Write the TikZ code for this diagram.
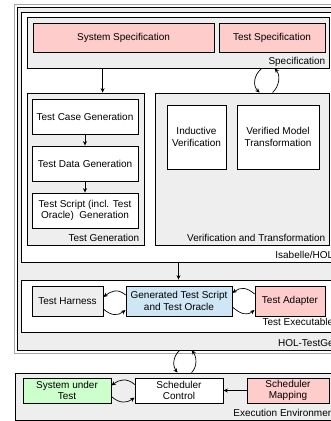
\documentclass[tikz,border=0pt]{standalone}
\usepackage{fontspec}
\setmainfont{Liberation Sans}
\usetikzlibrary{arrows.meta, calc}
\definecolor{specpink}{HTML}{FFCCCC}
\definecolor{boxgray}{HTML}{EEEEEE}
\definecolor{scriptblue}{HTML}{CFE6F5}
\definecolor{sutgreen}{HTML}{CCFFCC}

\begin{document}
\begin{tikzpicture}[x=1pt, y=-1pt,
  box/.style={draw, line width=0.8pt, inner sep=0pt, align=center, font=\fontsize{10}{11.5}\selectfont},
  lbl/.style={inner sep=0pt, font=\fontsize{10}{11.5}\selectfont, anchor=base east},
  arr/.style={-{Stealth[length=4.5pt, width=4pt]}, line width=0.7pt}]
\useasboundingbox (0,0) rectangle (331,421);
\clip (0,0) rectangle (331,421);
% Containers
\node[box, fill=boxgray, minimum width=324.5pt, minimum height=342.5pt] (holtg) at (179.75,178.75) {};
\draw[gray!70, line width=0.6pt] ($(holtg.north west)+(-2.5,-2.5)$) rectangle ($(holtg.south east)+(2.5,2.5)$);
\node[box, fill=white, minimum width=315pt, minimum height=250pt] (isa) at (178.5,137) {};
\node[box, fill=boxgray, minimum width=302pt, minimum height=51pt] (spec) at (178,42.5) {};
\node[box, fill=boxgray, minimum width=117pt, minimum height=152pt] (testgen) at (85.5,169) {};
\node[box, fill=boxgray, minimum width=174pt, minimum height=152pt] (verif) at (242,169) {};
\node[box, fill=white, minimum width=315pt, minimum height=52pt] (testexe) at (178.5,306) {};
\node[box, fill=boxgray, minimum width=324pt, minimum height=47pt] (execenv) at (177,396.5) {};
% Specification
\node[box, fill=specpink, minimum width=181pt, minimum height=29pt] (sysspec) at (123.5,37.5) {System Specification};
\node[box, fill=specpink, minimum width=106pt, minimum height=29pt] (testspec) at (272,37.5) {Test Specification};
% Test generation steps
\node[box, fill=white, minimum width=106pt, minimum height=35pt] (tcg) at (85,116.5) {Test Case Generation};
\node[box, fill=white, minimum width=106pt, minimum height=35pt] (tdg) at (85,163.5) {Test Data Generation};
\node[box, fill=white, minimum width=106pt, minimum height=35pt] (tsg) at (85,210.5) {Test Script (incl. Test\\Oracle)\ \ Generation};
% Verification
\node[box, fill=white, minimum width=59pt, minimum height=64pt] (indver) at (196.5,137) {Inductive\\Verification};
\node[box, fill=white, minimum width=82pt, minimum height=64pt] (vmt) at (278,137) {Verified Model\\Transformation};
% Test executable
\node[box, fill=boxgray, minimum width=71pt, minimum height=30pt] (harness) at (67.5,301) {Test Harness};
\node[box, fill=scriptblue, minimum width=106pt, minimum height=30pt] (gents) at (179,301) {Generated Test Script\\and Test Oracle};
\node[box, fill=specpink, minimum width=70pt, minimum height=30pt] (adapter) at (290,301) {Test Adapter};
% Execution environment
\node[box, fill=sutgreen, minimum width=88pt, minimum height=25pt] (sut) at (67,390.5) {System under\\Test};
\node[box, fill=white, minimum width=88pt, minimum height=25pt] (schedctl) at (179,390.5) {Scheduler\\Control};
\node[box, fill=specpink, minimum width=82pt, minimum height=25pt] (schedmap) at (288,390.5) {Scheduler\\Mapping};
% Container labels
\node[lbl] (speclbl) at ($(spec.south east)+(-4,-3.5)$) {Specification};
\node[lbl] (testgenlbl) at ($(testgen.south east)+(-5,-3.5)$) {Test Generation};
\node[lbl] (veriflbl) at ($(verif.south east)+(-4,-3.5)$) {Verification and Transformation};
\node[lbl] (isalbl) at ($(isa.south east)+(-3,-3.5)$) {Isabelle/HOL};
\node[lbl] (testexelbl) at ($(testexe.south east)+(-3,-6.5)$) {Test Executable};
\node[lbl] (holtglbl) at ($(holtg.south east)+(-3,-3.5)$) {HOL-TestGen};
\node[lbl] (execenvlbl) at ($(execenv.south east)+(-3,-3.5)$) {Execution Environment};
% Connectors
\draw[arr] ($(spec.south west)+(76,0)$) -- ($(testgen.north west)+(76,0)$);
\draw[arr] (tcg) -- (tdg);
\draw[arr] (tdg) -- (tsg);
\draw[arr] ($(spec.south west)+(235,0)$) .. controls +(-8,7) and +(-7,-7) .. ($(verif.north west)+(105,0)$);
\draw[arr] ($(verif.north west)+(118,0)$) .. controls +(7,-7) and +(6,7) .. ($(spec.south west)+(248,0)$);
\draw[arr] (isa) -- (testexe);
\draw[arr] ($(gents.west)+(0,-6)$) .. controls +(-8,-7) and +(8,-6) .. ($(harness.east)+(0,-4)$);
\draw[arr] ($(harness.east)+(0,8)$) .. controls +(8,7) and +(-8,6) .. ($(gents.west)+(0,9)$);
\draw[arr] ($(adapter.west)+(0,-7)$) .. controls +(-8,-7) and +(8,-6) .. ($(gents.east)+(0,-8)$);
\draw[arr] ($(gents.east)+(0,6)$) .. controls +(8,7) and +(-8,6) .. ($(adapter.west)+(0,9)$);
\draw[arr] ($(holtg.south west)+(162.5,0)$) .. controls +(-7,6) and +(-5,-6) .. ($(execenv.north west)+(163,0)$);
\draw[arr] ($(execenv.north west)+(177,0)$) .. controls +(6,-6) and +(5,6) .. ($(holtg.south west)+(174.5,0)$);
\draw[arr] ($(schedctl.west)+(0,-6)$) .. controls +(-8,-7) and +(8,-6) .. ($(sut.east)+(0,-5)$);
\draw[arr] ($(sut.east)+(0,6)$) .. controls +(8,7) and +(-8,6) .. ($(schedctl.west)+(0,7)$);
\draw[arr] (schedmap) -- (schedctl);
\end{tikzpicture}
\end{document}
